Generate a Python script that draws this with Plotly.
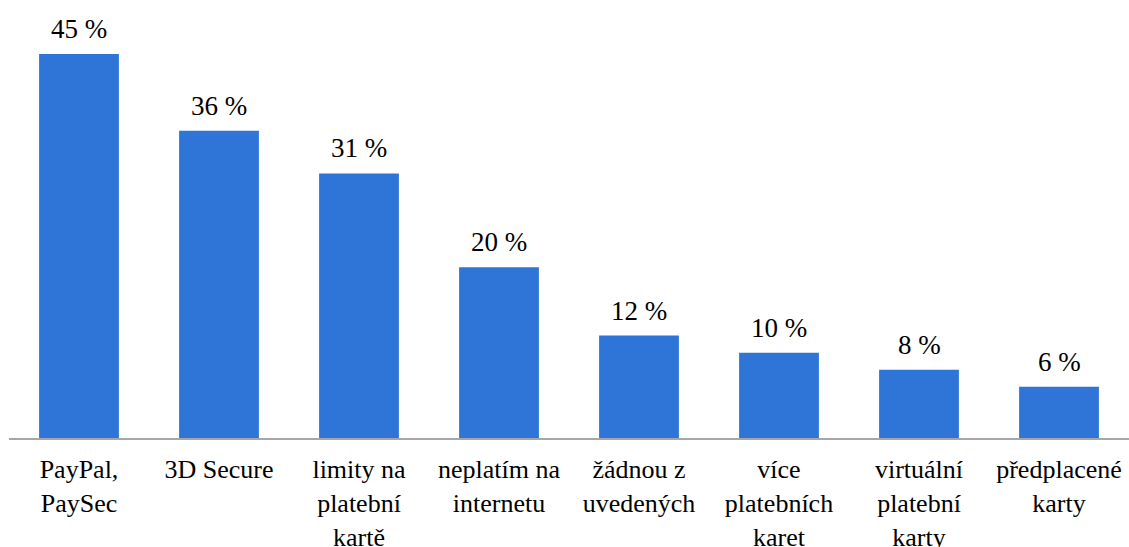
import plotly.graph_objects as go

categories = [
    "PayPal,<br>PaySec",
    "3D Secure",
    "limity na<br>platební<br>kartě",
    "neplatím na<br>internetu",
    "žádnou z<br>uvedených",
    "více<br>platebních<br>karet",
    "virtuální<br>platební<br>karty",
    "předplacené<br>karty",
]
values = [45, 36, 31, 20, 12, 10, 8, 6]
value_labels = [f"{v} %" for v in values]

FONT = "Liberation Serif"
BAR_COLOR = "#2F75D7"

fig = go.Figure(
    go.Bar(
        x=categories,
        y=values,
        marker=dict(color=BAR_COLOR, line=dict(width=0)),
        hoverinfo="skip",
    )
)

# percentage labels above each bar
for cat, v, lab in zip(categories, values, value_labels):
    fig.add_annotation(
        x=cat, y=v, text=lab, showarrow=False,
        yanchor="bottom", yshift=8,
        font=dict(family=FONT, size=27, color="black"),
    )

fig.update_layout(
    width=1129, height=547,
    margin=dict(l=9, r=0, t=0, b=109),
    paper_bgcolor="white", plot_bgcolor="white",
    bargap=0.43,
    showlegend=False,
    font=dict(family=FONT, size=27, color="black"),
)
fig.update_xaxes(
    automargin=False,
    showline=True, linecolor="#A6A6A6", linewidth=1.5,
    showgrid=False, zeroline=False,
    ticks="outside", ticklen=7, tickcolor="rgba(0,0,0,0)",
    tickfont=dict(family=FONT, size=26, color="black"),
)
fig.update_yaxes(
    automargin=False,
    range=[0, 51.33], visible=False, showgrid=False, zeroline=False,
)

fig.write_html("out.html")
